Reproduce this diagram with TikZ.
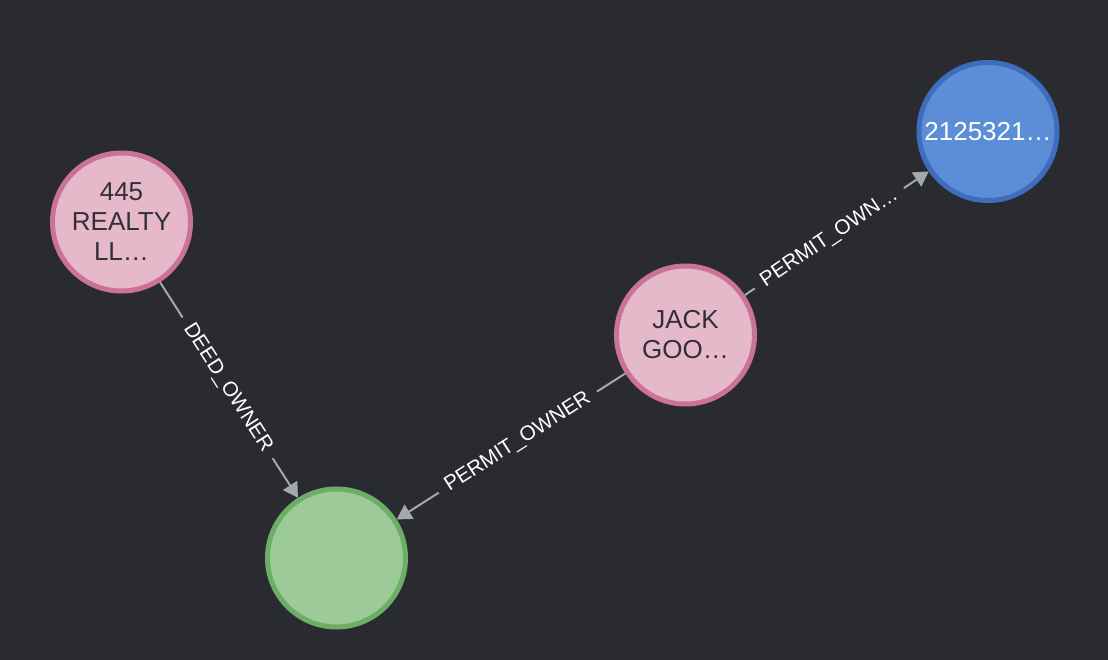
\documentclass[tikz,border=0pt]{standalone}
\usepackage{fontspec}
\setmainfont{Liberation Sans}
\usetikzlibrary{arrows.meta}
\definecolor{bg}{RGB}{42,43,48}
\definecolor{pinkfill}{RGB}{230,185,202}
\definecolor{pinkline}{RGB}{203,115,150}
\definecolor{bluefill}{RGB}{92,142,215}
\definecolor{blueline}{RGB}{62,109,190}
\definecolor{greenfill}{RGB}{156,203,151}
\definecolor{greenline}{RGB}{108,174,102}
\definecolor{edgecol}{RGB}{165,168,176}
\definecolor{darktext}{RGB}{48,48,54}
\tikzset{
  entity/.style={circle, line width=3.75pt, minimum size=103.5pt, inner sep=0pt,
    align=center, font=\fontsize{19.5}{22.5}\selectfont},
  pinknode/.style={entity, draw=pinkline, fill=pinkfill, text=darktext},
  bluenode/.style={entity, draw=blueline, fill=bluefill, text=white},
  greennode/.style={entity, draw=greenline, fill=greenfill},
  rel/.style={draw=edgecol, line width=1.5pt, -{Triangle[length=11pt,width=12.5pt]}},
  rellabel/.style={sloped, fill=bg, text=white, inner xsep=7pt, inner ysep=1pt,
    font=\fontsize{15.5}{17}\selectfont}
}
\begin{document}
\begin{tikzpicture}[x=0.75pt,y=-0.75pt]
\fill[bg] (0,0) rectangle (1108,660);
\useasboundingbox (0,0) rectangle (1108,660);
\node[pinknode] (realty) at (121.5,222) {445\\REALTY\\LL…};
\node[pinknode] (jack) at (685.5,335) {JACK\\GOO…};
\node[bluenode] (num) at (988,131.5) {2125321…};
\node[greennode] (green) at (336.5,558) {};
\draw[rel] (realty) -- node[rellabel, pos=0.49] {DEED\_OWNER} (green);
\draw[rel] (jack) -- node[rellabel, pos=0.47] {PERMIT\_OWNER} (green);
\draw[rel] (jack) -- node[rellabel, pos=0.46] {PERMIT\_OWN…} (num);
\end{tikzpicture}
\end{document}
